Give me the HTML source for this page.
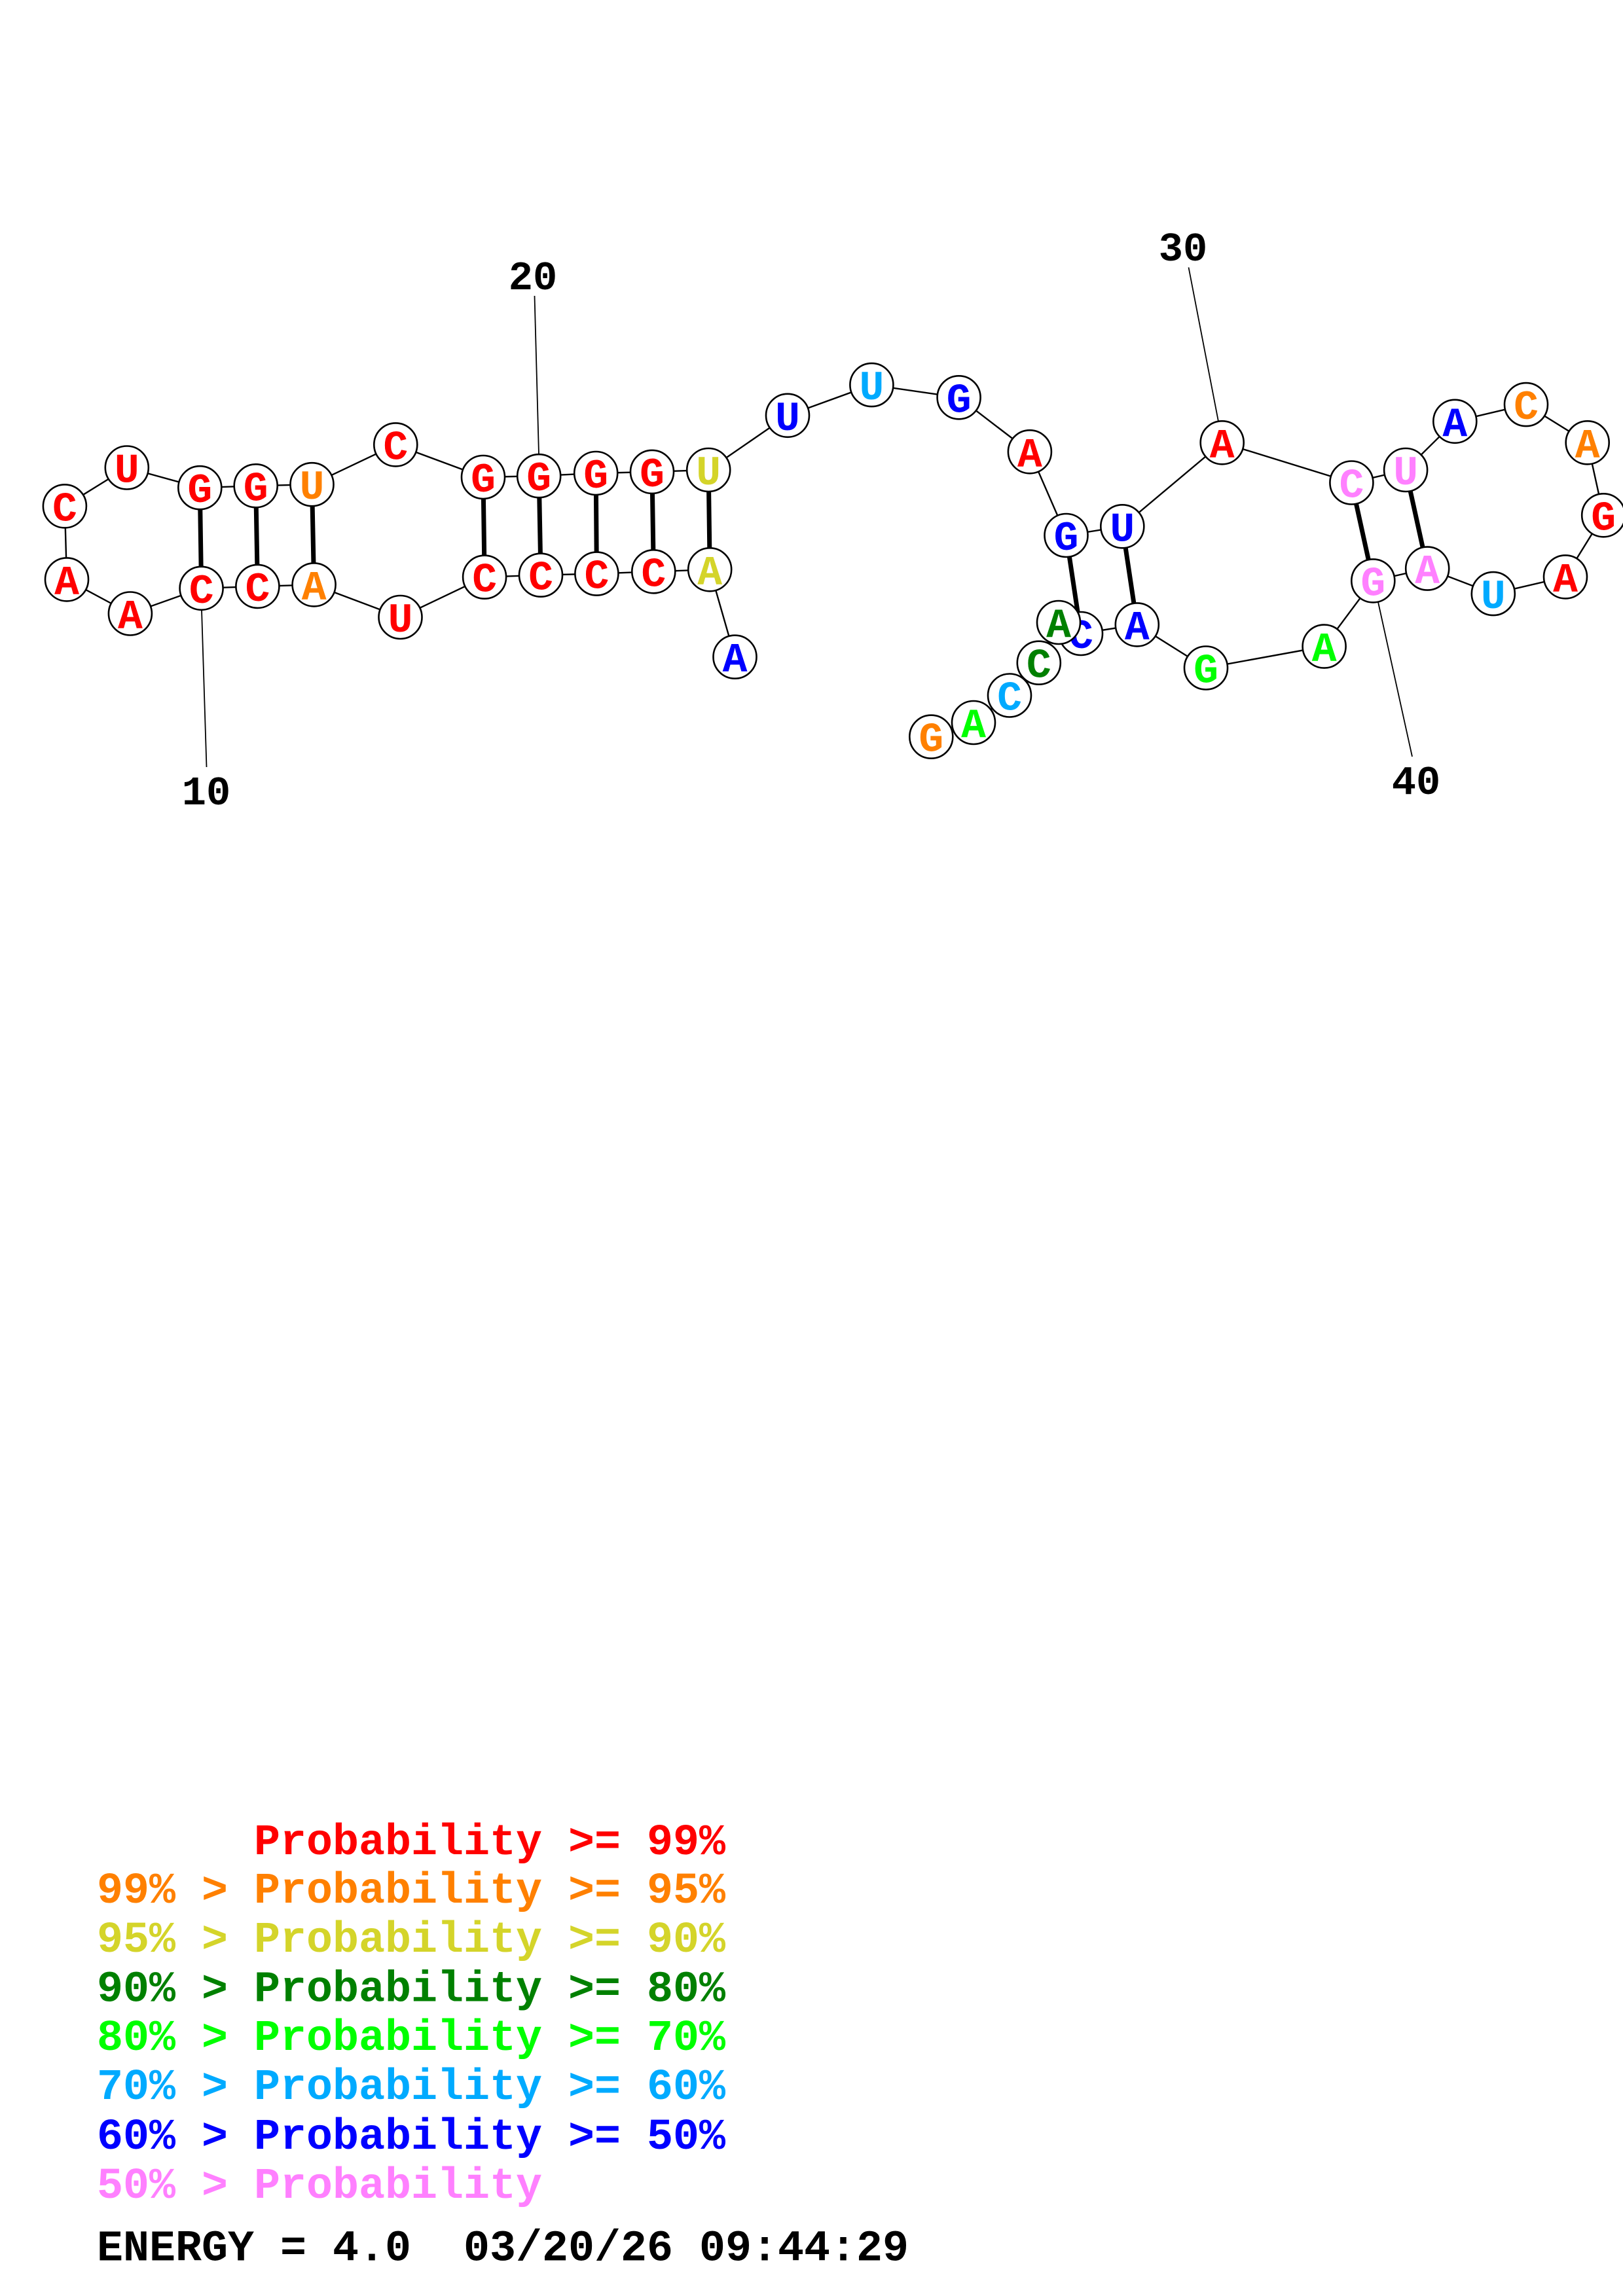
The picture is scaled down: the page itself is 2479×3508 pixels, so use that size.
<!DOCTYPE html>
<html>
<head>
<meta charset="utf-8">
<style>
  html,body{margin:0;padding:0;background:#fff;}
  svg{display:block;}
  .nt{font-family:"Liberation Mono","DejaVu Sans Mono",monospace;font-weight:bold;font-size:63px;text-anchor:middle;}
  .lbl{font-family:"Liberation Mono","DejaVu Sans Mono",monospace;font-weight:bold;font-size:62px;text-anchor:middle;fill:#000;}
  .leg{font-family:"Liberation Mono","DejaVu Sans Mono",monospace;font-weight:bold;font-size:66.67px;white-space:pre;}
  circle{fill:#fff;stroke:#000;stroke-width:2.6;}
</style>
</head>
<body>
<svg width="2479" height="3508" viewBox="0 0 2479 3508" xmlns="http://www.w3.org/2000/svg">
<rect x="0" y="0" width="2479" height="3508" fill="#fff"/>

<!-- label lines -->
<g stroke="#000" stroke-width="1.8">
  <line x1="308" y1="932" x2="315.5" y2="1172"/>
  <line x1="823" y1="694" x2="816.5" y2="452"/>
  <line x1="1861" y1="644" x2="1815.5" y2="408.5"/>
  <line x1="2105" y1="920" x2="2157" y2="1156"/>
</g>
<text class="lbl" x="315" y="1229">10</text>
<text class="lbl" x="814" y="442">20</text>
<text class="lbl" x="1807" y="398">30</text>
<text class="lbl" x="2163" y="1213">40</text>

<!-- backbone -->
<polyline fill="none" stroke="#000" stroke-width="2.4" points="1122.5,1003.7 1084.2,870.3 998.3,873.3 911.4,876.6 826,878.7 740.1,881.7 611.5,943 479.6,893.4 393.4,895.9 307.6,898.8 198.9,937.5 102,885.4 98.9,773.4 193.8,714.5 305.3,745.2 390.7,742.3 476.5,740.2 604.3,679.4 738,729 823.2,727.2 910.2,723 996,720.9 1082.2,718 1203,634.8 1331.4,588.1 1464.6,607.3 1572.9,690.3 1628.5,818 1714.3,804.3 1866.7,676.3 2064.4,737.5 2147.1,718 2222.3,643.8 2331,618.1 2424.7,676.3 2449.2,787.3 2391,881.4 2280.8,907.1 2180.2,868.6 2097.3,887.4 2022.6,987.6 1842,1020.5 1736.8,954.4 1651,968 1617,951 1586.8,1012.7 1542,1062.5 1487,1104 1422.3,1125.7"/>

<!-- pairs -->
<g stroke="#000" stroke-width="7">
  <line x1="1084.2" y1="870.3" x2="1082.2" y2="718"/>
  <line x1="998.3" y1="873.3" x2="996" y2="720.9"/>
  <line x1="911.4" y1="876.6" x2="910.2" y2="723"/>
  <line x1="826" y1="878.7" x2="823.2" y2="727.2"/>
  <line x1="740.1" y1="881.7" x2="738" y2="729"/>
  <line x1="479.6" y1="893.4" x2="476.5" y2="740.2"/>
  <line x1="393.4" y1="895.9" x2="390.7" y2="742.3"/>
  <line x1="307.6" y1="898.8" x2="305.3" y2="745.2"/>
  <line x1="1628.5" y1="818" x2="1651" y2="968"/>
  <line x1="1714.3" y1="804.3" x2="1736.8" y2="954.4"/>
  <line x1="2064.4" y1="737.5" x2="2097.3" y2="887.4"/>
  <line x1="2147.1" y1="718" x2="2180.2" y2="868.6"/>
</g>

<!-- nucleotides -->
<g>
<circle cx="1122.5" cy="1003.7" r="33"/><text class="nt" x="1122.5" y="1025.7" fill="#0000ff">A</text>
<circle cx="1084.2" cy="870.3" r="33"/><text class="nt" x="1084.2" y="892.3" fill="#d4d42a">A</text>
<circle cx="998.3" cy="873.3" r="33"/><text class="nt" x="998.3" y="895.3" fill="#ff0000">C</text>
<circle cx="911.4" cy="876.6" r="33"/><text class="nt" x="911.4" y="898.6" fill="#ff0000">C</text>
<circle cx="826" cy="878.7" r="33"/><text class="nt" x="826" y="900.7" fill="#ff0000">C</text>
<circle cx="740.1" cy="881.7" r="33"/><text class="nt" x="740.1" y="903.7" fill="#ff0000">C</text>
<circle cx="611.5" cy="943" r="33"/><text class="nt" x="611.5" y="965" fill="#ff0000">U</text>
<circle cx="479.6" cy="893.4" r="33"/><text class="nt" x="479.6" y="915.4" fill="#ff8000">A</text>
<circle cx="393.4" cy="895.9" r="33"/><text class="nt" x="393.4" y="917.9" fill="#ff0000">C</text>
<circle cx="307.6" cy="898.8" r="33"/><text class="nt" x="307.6" y="920.8" fill="#ff0000">C</text>
<circle cx="198.9" cy="937.5" r="33"/><text class="nt" x="198.9" y="959.5" fill="#ff0000">A</text>
<circle cx="102" cy="885.4" r="33"/><text class="nt" x="102" y="907.4" fill="#ff0000">A</text>
<circle cx="98.9" cy="773.4" r="33"/><text class="nt" x="98.9" y="795.4" fill="#ff0000">C</text>
<circle cx="193.8" cy="714.5" r="33"/><text class="nt" x="193.8" y="736.5" fill="#ff0000">U</text>
<circle cx="305.3" cy="745.2" r="33"/><text class="nt" x="305.3" y="767.2" fill="#ff0000">G</text>
<circle cx="390.7" cy="742.3" r="33"/><text class="nt" x="390.7" y="764.3" fill="#ff0000">G</text>
<circle cx="476.5" cy="740.2" r="33"/><text class="nt" x="476.5" y="762.2" fill="#ff8000">U</text>
<circle cx="604.3" cy="679.4" r="33"/><text class="nt" x="604.3" y="701.4" fill="#ff0000">C</text>
<circle cx="738" cy="729" r="33"/><text class="nt" x="738" y="751" fill="#ff0000">G</text>
<circle cx="823.2" cy="727.2" r="33"/><text class="nt" x="823.2" y="749.2" fill="#ff0000">G</text>
<circle cx="910.2" cy="723" r="33"/><text class="nt" x="910.2" y="745" fill="#ff0000">G</text>
<circle cx="996" cy="720.9" r="33"/><text class="nt" x="996" y="742.9" fill="#ff0000">G</text>
<circle cx="1082.2" cy="718" r="33"/><text class="nt" x="1082.2" y="740" fill="#d4d42a">U</text>
<circle cx="1203" cy="634.8" r="33"/><text class="nt" x="1203" y="656.8" fill="#0000ff">U</text>
<circle cx="1331.4" cy="588.1" r="33"/><text class="nt" x="1331.4" y="610.1" fill="#00aaff">U</text>
<circle cx="1464.6" cy="607.3" r="33"/><text class="nt" x="1464.6" y="629.3" fill="#0000ff">G</text>
<circle cx="1572.9" cy="690.3" r="33"/><text class="nt" x="1572.9" y="712.3" fill="#ff0000">A</text>
<circle cx="1628.5" cy="818" r="33"/><text class="nt" x="1628.5" y="840" fill="#0000ff">G</text>
<circle cx="1714.3" cy="804.3" r="33"/><text class="nt" x="1714.3" y="826.3" fill="#0000ff">U</text>
<circle cx="1866.7" cy="676.3" r="33"/><text class="nt" x="1866.7" y="698.3" fill="#ff0000">A</text>
<circle cx="2064.4" cy="737.5" r="33"/><text class="nt" x="2064.4" y="759.5" fill="#ff80ff">C</text>
<circle cx="2147.1" cy="718" r="33"/><text class="nt" x="2147.1" y="740" fill="#ff80ff">U</text>
<circle cx="2222.3" cy="643.8" r="33"/><text class="nt" x="2222.3" y="665.8" fill="#0000ff">A</text>
<circle cx="2331" cy="618.1" r="33"/><text class="nt" x="2331" y="640.1" fill="#ff8000">C</text>
<circle cx="2424.7" cy="676.3" r="33"/><text class="nt" x="2424.7" y="698.3" fill="#ff8000">A</text>
<circle cx="2449.2" cy="787.3" r="33"/><text class="nt" x="2449.2" y="809.3" fill="#ff0000">G</text>
<circle cx="2391" cy="881.4" r="33"/><text class="nt" x="2391" y="903.4" fill="#ff0000">A</text>
<circle cx="2280.8" cy="907.1" r="33"/><text class="nt" x="2280.8" y="929.1" fill="#00aaff">U</text>
<circle cx="2180.2" cy="868.6" r="33"/><text class="nt" x="2180.2" y="890.6" fill="#ff80ff">A</text>
<circle cx="2097.3" cy="887.4" r="33"/><text class="nt" x="2097.3" y="909.4" fill="#ff80ff">G</text>
<circle cx="2022.6" cy="987.6" r="33"/><text class="nt" x="2022.6" y="1009.6" fill="#00ff00">A</text>
<circle cx="1842" cy="1020.5" r="33"/><text class="nt" x="1842" y="1042.5" fill="#00ff00">G</text>
<circle cx="1736.8" cy="954.4" r="33"/><text class="nt" x="1736.8" y="976.4" fill="#0000ff">A</text>
<circle cx="1651" cy="968" r="33"/><text class="nt" x="1651" y="990" fill="#0000ff">C</text>
<circle cx="1617" cy="951" r="33"/><text class="nt" x="1617" y="973" fill="#008000">A</text>
<circle cx="1586.8" cy="1012.7" r="33"/><text class="nt" x="1586.8" y="1034.7" fill="#008000">C</text>
<circle cx="1542" cy="1062.5" r="33"/><text class="nt" x="1542" y="1084.5" fill="#00aaff">C</text>
<circle cx="1487" cy="1104" r="33"/><text class="nt" x="1487" y="1126" fill="#00ff00">A</text>
<circle cx="1422.3" cy="1125.7" r="33"/><text class="nt" x="1422.3" y="1147.7" fill="#ff8000">G</text>
</g>

<!-- legend -->
<text class="leg" x="148" y="2833" fill="#ff0000">      Probability &gt;= 99%</text>
<text class="leg" x="148" y="2907" fill="#ff8000">99% &gt; Probability &gt;= 95%</text>
<text class="leg" x="148" y="2982" fill="#d4d42a">95% &gt; Probability &gt;= 90%</text>
<text class="leg" x="148" y="3057.5" fill="#008000">90% &gt; Probability &gt;= 80%</text>
<text class="leg" x="148" y="3132" fill="#00ff00">80% &gt; Probability &gt;= 70%</text>
<text class="leg" x="148" y="3207" fill="#00aaff">70% &gt; Probability &gt;= 60%</text>
<text class="leg" x="148" y="3283" fill="#0000ff">60% &gt; Probability &gt;= 50%</text>
<text class="leg" x="148" y="3358" fill="#ff80ff">50% &gt; Probability</text>
<text class="leg" x="148" y="3453.5" fill="#000000">ENERGY = 4.0  03/20/26 09:44:29</text>
</svg>
</body>
</html>
